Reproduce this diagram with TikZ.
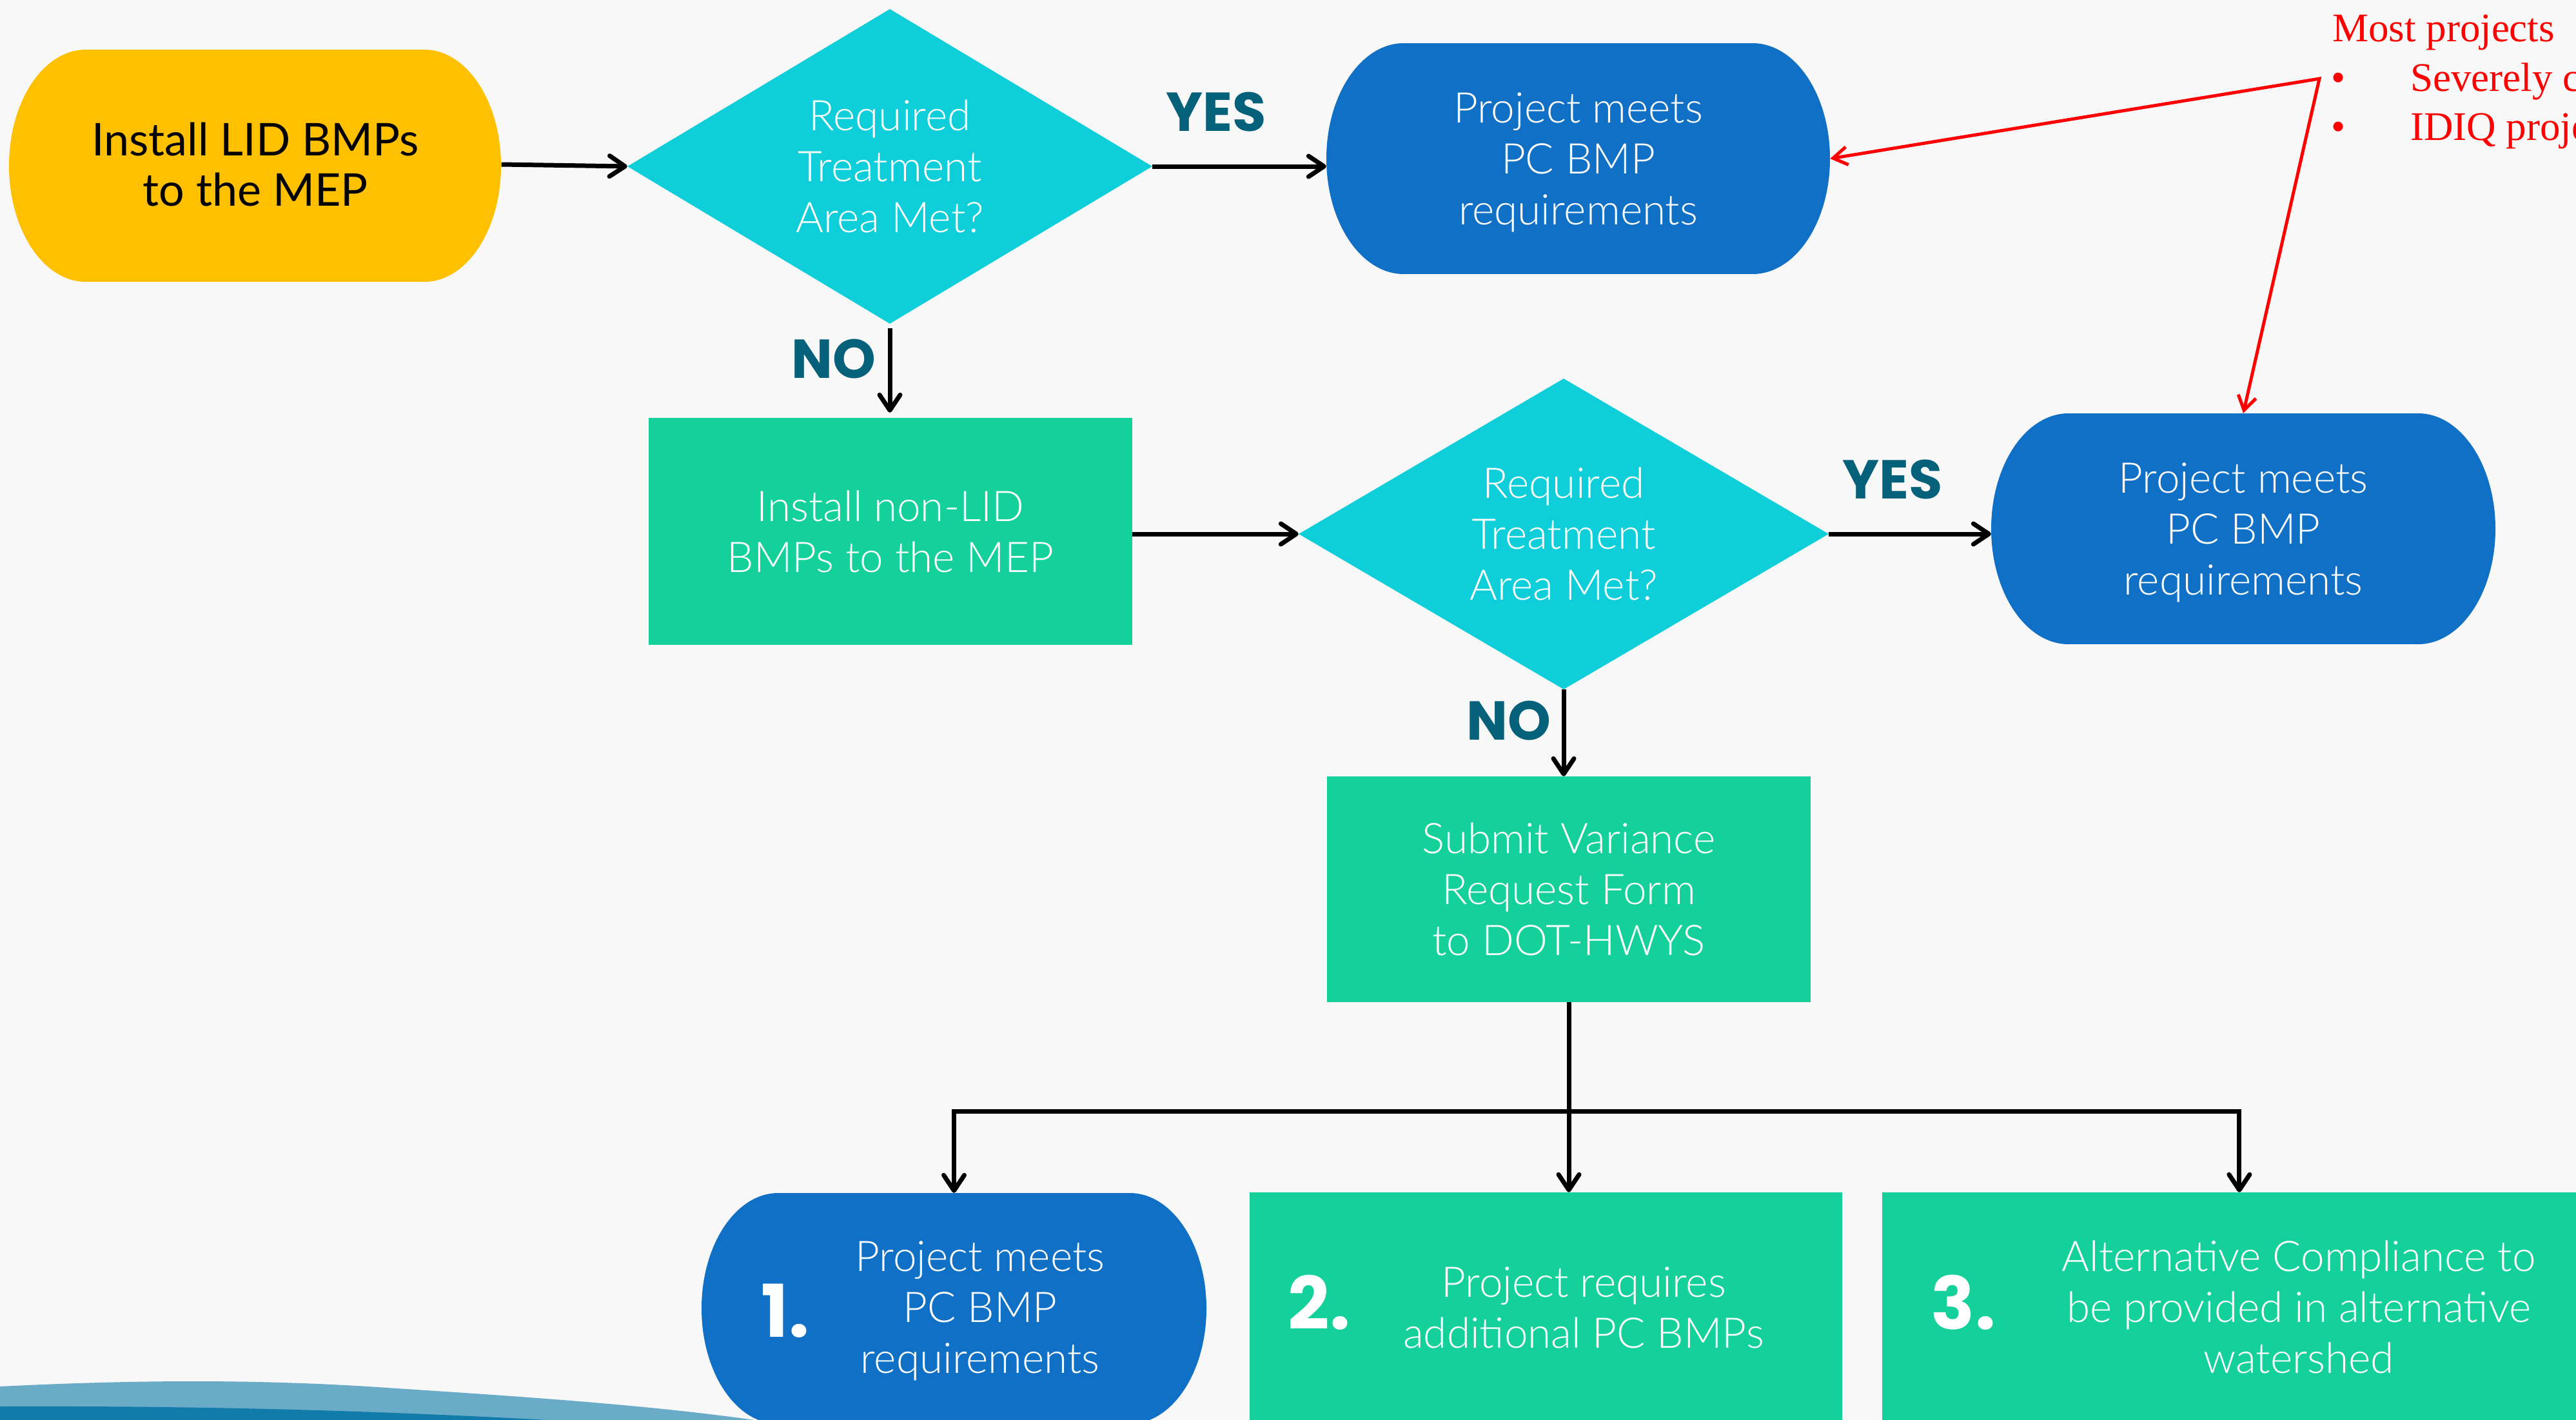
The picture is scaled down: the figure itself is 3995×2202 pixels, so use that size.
\documentclass[tikz,border=0pt]{standalone}
\usepackage{fontspec}
\usetikzlibrary{arrows.meta,shapes.geometric,calc}
\newfontfamily\lightf{Lato Light}
\newfontfamily\regf{Lato}
\newfontfamily\labf{Poppins}
\newfontfamily\redf{Liberation Serif}
\definecolor{bgc}{RGB}{248,248,248}
\definecolor{yelc}{RGB}{255,192,0}
\definecolor{cyanc}{RGB}{14,207,217}
\definecolor{bluec}{RGB}{16,112,198}
\definecolor{greenc}{RGB}{20,208,155}
\definecolor{labc}{RGB}{5,96,122}
\definecolor{wavel}{RGB}{106,172,200}
\definecolor{waved}{RGB}{17,123,170}
\definecolor{redc}{RGB}{255,0,0}
\begin{document}
\begin{tikzpicture}[x=1pt,y=-1pt,
  txt/.style={text=white, font=\lightf\fontsize{65.6}{79}\selectfont, align=center, inner sep=0pt, text depth=0pt},
  dia/.style={diamond, fill=cyanc, aspect=1.67, txt},
  boxn/.style={rectangle, fill=greenc, txt},
  barreln/.style={rectangle, txt},
  lab/.style={text=labc, font=\labf\bfseries\fontsize{85}{85}\selectfont, inner sep=0pt, text depth=0pt},
  num/.style={text=white, font=\labf\bfseries\fontsize{113}{113}\selectfont, inner sep=0pt, text depth=0pt},
  arr/.style={line width=7pt, -{Straight Barb[length=24pt,width=32pt,round]}},
  plainline/.style={line width=7pt},
  redarr/.style={draw=redc, line width=5pt, {Straight Barb[length=22pt,width=28pt]}-{Straight Barb[length=22pt,width=28pt]}},
  redtxt/.style={text=redc, font=\redf\fontsize{63}{76}\selectfont, inner sep=0pt, anchor=base west}
]
\useasboundingbox (0,0) rectangle (3995,2202);
\clip (0,0) rectangle (3995,2202);
\fill[bgc] (0,0) rectangle (3995,2202);

% bottom-left waves
\fill[wavel] (0,2150) .. controls (200,2140) and (400,2138) .. (600,2152)
  .. controls (800,2165) and (1000,2178) .. (1170,2202) -- (0,2202) -- cycle;
\fill[waved] (0,2181) .. controls (300,2180) and (550,2186) .. (850,2202) -- (0,2202) -- cycle;

% barrel shapes
\fill[yelc] (133,77) rectangle (658,437);
\fill[yelc] (133,257) ellipse [x radius=119pt, y radius=180pt];
\fill[yelc] (658,257) ellipse [x radius=119pt, y radius=180pt];

\fill[bluec] (2177,67) rectangle (2718,425);
\fill[bluec] (2177,246) ellipse [x radius=120pt, y radius=179pt];
\fill[bluec] (2718,246) ellipse [x radius=120pt, y radius=179pt];

\fill[bluec] (3208,641) rectangle (3750,999);
\fill[bluec] (3208,820) ellipse [x radius=120pt, y radius=179pt];
\fill[bluec] (3750,820) ellipse [x radius=120pt, y radius=179pt];

\fill[bluec] (1207,1850) rectangle (1752,2208);
\fill[bluec] (1207,2029) ellipse [x radius=119pt, y radius=179pt];
\fill[bluec] (1752,2029) ellipse [x radius=119pt, y radius=179pt];

% nodes
\node[barreln, text=black, font=\regf\fontsize{70}{78}\selectfont, minimum width=763pt, minimum height=360pt] (n1) at (396,255) {Install LID BMPs\\to the MEP};
\node[dia, minimum width=814pt, minimum height=488pt] (d1) at (1380,258) {Required\\Treatment\\Area Met?};
\node[barreln, minimum width=781pt, minimum height=358pt] (bl1) at (2447.5,246) {Project meets\\PC BMP\\requirements};
\node[boxn, minimum width=750pt, minimum height=352pt] (g1) at (1381,824) {Install non-LID\\BMPs to the MEP};
\node[dia, minimum width=822pt, minimum height=482pt] (d2) at (2425,828) {Required\\Treatment\\Area Met?};
\node[barreln, minimum width=782pt, minimum height=358pt] (bl2) at (3479,820) {Project meets\\PC BMP\\requirements};
\node[boxn, minimum width=750pt, minimum height=350pt] (g2) at (2433,1379) {Submit Variance\\Request Form\\to DOT-HWYS};

\node[barreln, minimum width=783pt, minimum height=358pt] (bl3) at (1479.5,2029) {};
\node[boxn, minimum width=919pt, minimum height=361pt] (g3) at (2397.5,2029.5) {};
\node[boxn, minimum width=1181pt, minimum height=361pt] (g4) at (3509.5,2029.5) {};

\node[txt] (t3) at (1520,2027) {Project meets\\PC BMP\\requirements};
\node[txt] (t4) at (2456,2027.5) {Project requires\\additional PC BMPs};
\node[txt] (t5) at (3565,2027) {Alternative Compliance to\\be provided in alternative\\watershed};
\node[num] (num1) at (1218,2032) {1.};
\node[num] (num2) at (2046,2019) {2.};
\node[num] (num3) at (3045,2019) {3.};

% labels
\node[lab] (yes1) at (1886,173) {YES};
\node[lab] (no1) at (1293,556) {NO};
\node[lab] (yes2) at (2935,743) {YES};
\node[lab] (no2) at (2340,1117) {NO};

% connectors
\draw[arr] (n1.east) -- (d1.west);
\draw[arr] (d1.east) -- (d1.east -| bl1.west);
\draw[arr, shorten <=7pt, shorten >=8pt] (d1.south) -- (d1.south |- g1.north);
\draw[arr] (d2.west -| g1.east) -- (d2.west);
\draw[arr] (d2.east) -- (d2.east -| bl2.west);
\draw[arr] (d2.south) -- (d2.south |- g2.north);
\coordinate (jn) at (2433,1723);
\draw[plainline] (g2.south) -- (jn);
\draw[arr] (jn) -| (bl3.north);
\draw[arr] (jn) -- (jn |- g3.north);
\draw[arr] (jn) -| ($(g4.north west)!0.469!(g4.north east)$);

% red annotation
\node[redtxt] (rt1) at (3617,65) {Most projects};
\node[redtxt] (rb1) at (3615,142) {•};
\node[redtxt] (rt2) at (3738,142) {Severely constrained};
\node[redtxt] (rb2) at (3615,218) {•};
\node[redtxt] (rt3) at (3738,218) {IDIQ projects};
\coordinate (rv) at (3597,122);
\draw[redarr] (bl1.east) -- (rv) -- (bl2.north);
\end{tikzpicture}
\end{document}
